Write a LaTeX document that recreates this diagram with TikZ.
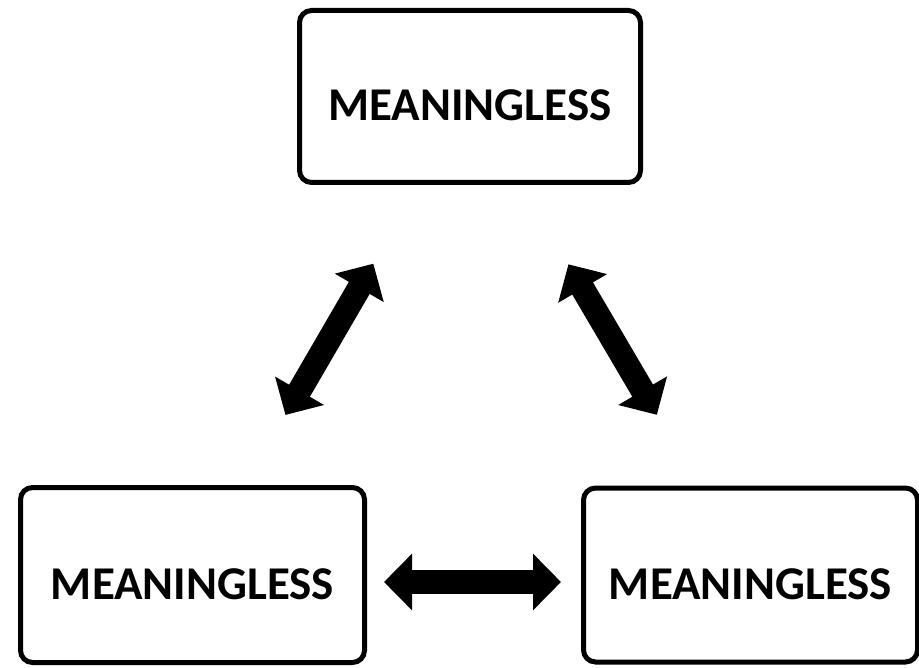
\documentclass[tikz,border=0pt]{standalone}
\usepackage{fontspec}
\setmainfont{Carlito}
\usetikzlibrary{arrows.meta}
\usetikzlibrary{positioning}
\definecolor{fg}{rgb}{0,0,0}
\tikzstyle{box}=[draw=fg, line width=5pt, rounded corners=12pt,
minimum width=344pt, minimum height=175pt, inner sep=0pt,
text height=49pt, text depth=0pt, anchor=center, text=fg,
font=\fontsize{47}{51}\selectfont\bfseries]
\tikzstyle{biarrow}=[draw=fg, line width=24pt,
{Triangle[width=55pt,length=28pt]}-{Triangle[width=55pt,length=28pt]}]

\begin{document}
\begin{tikzpicture}[x=1pt, y=-1pt, node distance=214pt]
    \useasboundingbox (0,0) rectangle (919,668);

    \node[box, minimum width=341pt, minimum height=172pt] (top) at (470,96.5) {MEANINGLESS};

    \node[box] (left) at (192.5,575) {MEANINGLESS};

    \node[box, minimum width=334pt, minimum height=174pt, right=of left] (right) {MEANINGLESS};

    \draw[biarrow, shorten <=81pt, shorten >=91pt] (left) -- (top);
    \draw[biarrow, shorten <=92pt, shorten >=82pt] (top) -- (right);
    \draw[biarrow, shorten <=17pt, shorten >=20pt] ([yshift=-7pt]left.east) -- ([yshift=-7pt]right.west);
\end{tikzpicture}
\end{document}
